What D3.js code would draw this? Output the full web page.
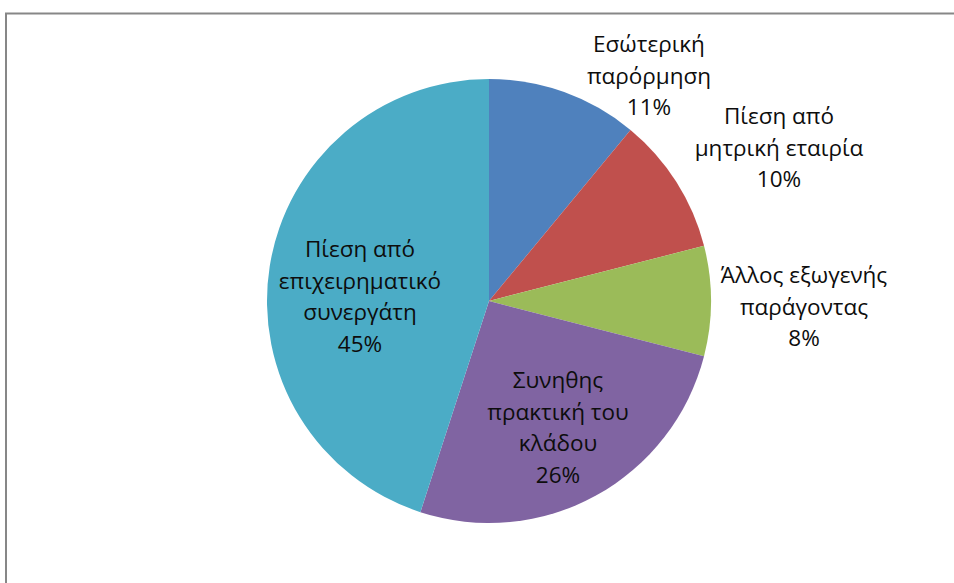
<!DOCTYPE html>
<html>
<head>
<meta charset="utf-8">
<script src="https://cdn.jsdelivr.net/npm/d3@7/dist/d3.min.js"></script>
<style>
  html, body { margin: 0; padding: 0; background: #fff; }
  svg { display: block; }
  text { font-family: "Open Sans", "Noto Sans", sans-serif; }
</style>
</head>
<body>
<svg id="chart" width="954" height="583"></svg>
<script>
// Slices, clockwise from 12 o'clock
const categories = [
  ["Εσώτερική", "παρόρμηση"],
  ["Πίεση από", "μητρική εταιρία"],
  ["Άλλος εξωγενής", "παράγοντας"],
  ["Συνηθης", "πρακτική του", "κλάδου"],
  ["Πίεση από", "επιχειρηματικό", "συνεργάτη"]
];
const values = [11, 10, 8, 26, 45];
const colors = ["#4F81BD", "#C0504D", "#9BBB59", "#8064A2", "#4BACC6"];

const W = 954, H = 583;
const cx = 489, cy = 301, R = 222;
const lineH = 31.5;
// Label block anchors relative to the pie centre: [x centre, first baseline]
const labelOffset = [[160, -249], [290, -177], [315, -18], [69, 87], [-129, -44]];

const svg = d3.select("#chart");

// Chart area frame (top and left edges visible)
svg.append("line").attr("x1", 5).attr("y1", 13.5).attr("x2", W).attr("y2", 13.5)
  .attr("stroke", "#878787").attr("stroke-width", 2);
svg.append("line").attr("x1", 6).attr("y1", 13).attr("x2", 6).attr("y2", H)
  .attr("stroke", "#878787").attr("stroke-width", 2);

const pie = d3.pie().sort(null).value(d => d);
const arcs = pie(values);
const arc = d3.arc().innerRadius(0).outerRadius(R);

const g = svg.append("g").attr("transform", `translate(${cx},${cy})`);
g.selectAll("path.slice").data(arcs).join("path")
  .attr("class", "slice")
  .attr("d", arc)
  .attr("fill", (d, i) => colors[i]);

const total = d3.sum(values);
const fmt = v => Math.round(v / total * 100) + "%";

const labels = g.selectAll("text.lbl").data(arcs).join("text")
  .attr("class", "lbl")
  .attr("text-anchor", "middle")
  .attr("font-size", 22.5)
  .attr("fill", "#0d0d0d")
  .attr("x", (d, i) => labelOffset[i][0])
  .attr("y", (d, i) => labelOffset[i][1]);

labels.each(function(d, i) {
  const lines = categories[i].concat([fmt(values[i])]);
  d3.select(this).selectAll("tspan").data(lines).join("tspan")
    .attr("x", labelOffset[i][0])
    .attr("dy", (t, k) => k === 0 ? 0 : lineH)
    .text(t => t);
});
</script>
</body>
</html>
